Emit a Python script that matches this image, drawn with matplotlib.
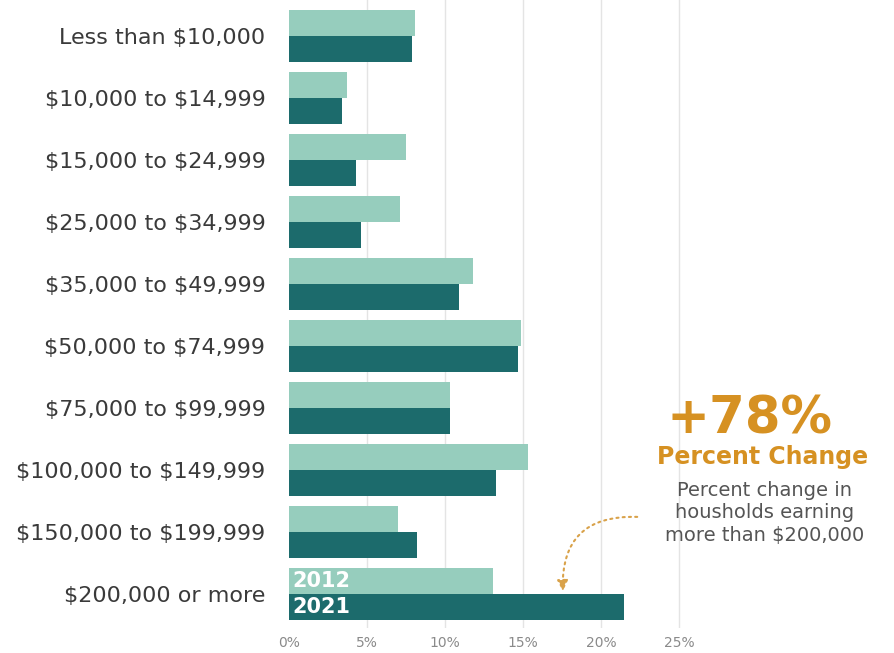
import matplotlib.pyplot as plt
from matplotlib.patches import FancyArrowPatch

plt.rcParams['text.parse_math'] = False
plt.rcParams['font.family'] = ['DejaVu Sans']

brackets = ['Less than $10,000', '$10,000 to $14,999', '$15,000 to $24,999',
            '$25,000 to $34,999', '$35,000 to $49,999', '$50,000 to $74,999',
            '$75,000 to $99,999', '$100,000 to $149,999', '$150,000 to $199,999',
            '$200,000 or more']
share_2012 = [8.1, 3.7, 7.5, 7.1, 11.8, 14.9, 10.3, 15.3, 7.0, 13.1]
share_2021 = [7.9, 3.4, 4.3, 4.6, 10.9, 14.7, 10.3, 13.3, 8.2, 21.5]
tick_values = [0, 5, 10, 15, 20, 25]
tick_labels = ['0%', '5%', '10%', '15%', '20%', '25%']

light = '#96cdbd'
dark = '#1c6b6c'
gold = '#d69122'

fig = plt.figure(figsize=(8.95, 6.53), dpi=100)
ax = fig.add_axes([289 / 895, 25 / 653, 606 / 895, 628 / 653])

h = 0.42
ys = list(range(len(brackets)))
ax.barh([y - h / 2 for y in ys], share_2012, height=h, color=light, zorder=2)
ax.barh([y + h / 2 for y in ys], share_2021, height=h, color=dark, zorder=2)

ax.set_xlim(0, 606 / 15.6)
ax.set_ylim(9.548, -0.58)
ax.set_xticks(tick_values)
ax.set_xticklabels(tick_labels, fontsize=10, color='#8a8a8a')
ax.set_yticks(ys)
ax.set_yticklabels(brackets, fontsize=16, color='#3a3a3a')
ax.tick_params(axis='y', length=0, pad=17)
ax.tick_params(axis='x', length=0, pad=6)
for v in tick_values[1:]:
    ax.axvline(v, color='#e4e4e4', lw=1, zorder=1)
for s in ax.spines.values():
    s.set_visible(False)

last = len(brackets) - 1
ax.text(0.2, last - h / 2, '2012', color='white', fontsize=15, fontweight='bold',
        va='center', ha='left', zorder=3)
ax.text(0.2, last + h / 2, '2021', color='white', fontsize=15, fontweight='bold',
        va='center', ha='left', zorder=3)

# callout on the right
fig.text(750 / 895, 1 - 420 / 653, '+78%', color=gold, fontsize=37,
         fontweight='heavy', ha='center', va='center')
fig.text(763 / 895, 1 - 457 / 653, 'Percent Change', color=gold, fontsize=17,
         fontweight='bold', ha='center', va='center')
fig.text(765 / 895, 1 - 513 / 653,
         'Percent change in\nhousholds earning\nmore than $200,000',
         color='#555555', fontsize=14, ha='center', va='center', linespacing=1.2)

arrow = FancyArrowPatch((640 / 895, 1 - 517 / 653), (563 / 895, 1 - 594 / 653),
                        transform=fig.transFigure,
                        connectionstyle='arc3,rad=0.55', arrowstyle='-|>',
                        mutation_scale=16, color='#d9a24a', lw=1.5,
                        linestyle=(0, (1, 2)))
fig.patches.append(arrow)

fig.savefig('out.png', dpi=100)
